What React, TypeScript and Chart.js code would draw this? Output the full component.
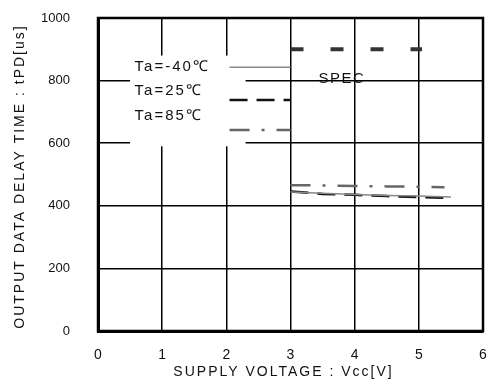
import React, { useEffect, useRef } from "react";
import { Chart, registerables } from "chart.js";

Chart.register(...registerables);

const xTicks = [0, 1, 2, 3, 4, 5, 6];
const yTicks = [0, 200, 400, 600, 800, 1000];

const vcc = [3.0, 3.5, 4.0, 4.5, 5.0, 5.5];
const tpdMinus40 = [444, 440, 436, 433, 431, 428];
const tpd25 = [446, 438, 435, 431, 428, 425];
const vcc85 = [3.0, 3.5, 4.0, 4.5, 5.0, 5.4];
const tpd85 = [466, 465, 463, 462, 461, 459];

const specVcc = [3.0, 5.05];
const specTpd = [900, 900];

const legendLabels = ["Ta=-40℃", "Ta=25℃", "Ta=85℃"];
const legendY = [843, 767, 687];
const legendSampleY = [843, 738, 642];

const xTitle = "SUPPLY VOLTAGE : Vcc[V]";
const yTitle = "OUTPUT DATA DELAY TIME : tPD[us]";

const FONT = "'Liberation Sans', Arial, sans-serif";

const toPts = (xs: number[], ys: number[]) => xs.map((x, i) => ({ x, y: ys[i] }));

const styles = [
  { color: "#888888", width: 1.5, dash: [] as number[] },
  { color: "#111111", width: 2.5, dash: [18, 9] },
  { color: "#666666", width: 2.5, dash: [20, 12, 3, 12] },
];

const legendPlugin = {
  id: "customLegend",
  beforeDatasetsDraw(chart: any) {
    const { ctx, scales } = chart;
    const xs = scales.x;
    const ys = scales.y;
    ctx.save();
    const bx0 = xs.getPixelForValue(0.5);
    const bx1 = xs.getPixelForValue(2.3);
    const by0 = ys.getPixelForValue(880);
    const by1 = ys.getPixelForValue(590);
    ctx.fillStyle = "#ffffff";
    ctx.fillRect(bx0, by0, bx1 - bx0, by1 - by0);
    ctx.fillStyle = "#111111";
    ctx.font = `15px ${FONT}`;
    ctx.letterSpacing = "2px";
    ctx.textAlign = "left";
    ctx.textBaseline = "middle";
    legendLabels.forEach((t, i) => {
      ctx.fillText(t, xs.getPixelForValue(0.57), ys.getPixelForValue(legendY[i]));
    });
    legendSampleY.forEach((v, i) => {
      const s = styles[i];
      ctx.strokeStyle = s.color;
      ctx.lineWidth = s.width;
      ctx.setLineDash(s.dash);
      ctx.beginPath();
      const y = ys.getPixelForValue(v);
      ctx.moveTo(xs.getPixelForValue(2.05), y);
      ctx.lineTo(xs.getPixelForValue(3.0), y);
      ctx.stroke();
    });
    ctx.setLineDash([]);
    ctx.font = `15px ${FONT}`;
    ctx.letterSpacing = "1.5px";
    ctx.textAlign = "center";
    ctx.fillText("SPEC", xs.getPixelForValue(3.8), ys.getPixelForValue(805));
    ctx.restore();
  },
};

const titlesPlugin = {
  id: "axisTitles",
  afterDraw(chart: any) {
    const { ctx, chartArea } = chart;
    ctx.save();
    ctx.fillStyle = "#111111";
    ctx.font = `14px ${FONT}`;
    ctx.letterSpacing = "2px";
    ctx.textAlign = "center";
    ctx.textBaseline = "middle";
    ctx.fillText(xTitle, (chartArea.left + chartArea.right) / 2 - 7, chartArea.bottom + 41);
    ctx.translate(20, (chartArea.top + chartArea.bottom) / 2 + 2);
    ctx.rotate(-Math.PI / 2);
    ctx.letterSpacing = "2px";
    ctx.fillText(yTitle, 0, 0);
    ctx.restore();
  },
};

export default function App() {
  const ref = useRef<HTMLCanvasElement | null>(null);
  useEffect(() => {
    if (!ref.current) return;
    const chart = new Chart(ref.current, {
      type: "line",
      data: {
        datasets: [
          {
            label: "SPEC",
            data: toPts(specVcc, specTpd),
            borderColor: "#333333",
            borderWidth: 4,
            borderDash: [13, 27],
            pointRadius: 0,
            borderCapStyle: "butt",
          },
          {
            label: legendLabels[2],
            data: toPts(vcc85, tpd85),
            borderColor: styles[2].color,
            borderWidth: styles[2].width,
            borderDash: styles[2].dash,
            pointRadius: 0,
          },
          {
            label: legendLabels[0],
            data: toPts(vcc, tpdMinus40),
            borderColor: styles[0].color,
            borderWidth: styles[0].width,
            pointRadius: 0,
          },
          {
            label: legendLabels[1],
            data: toPts(vcc, tpd25),
            borderColor: styles[1].color,
            borderWidth: styles[1].width,
            borderDash: styles[1].dash,
            pointRadius: 0,
          },
        ],
      },
      options: {
        animation: false,
        responsive: false,
        maintainAspectRatio: false,
        layout: { padding: { top: 18, right: 5, left: 0, bottom: 0 } },
        plugins: { legend: { display: false }, tooltip: { enabled: false } },
        scales: {
          x: {
            type: "linear",
            min: 0,
            max: 6,
            afterBuildTicks: (s: any) => {
              s.ticks = xTicks.map((v) => ({ value: v }));
            },
            afterFit: (s: any) => {
              s.height = 57;
              s.paddingTop = 0;
              s.paddingBottom = 0;
              s.paddingLeft = 0;
              s.paddingRight = 0;
            },
            ticks: {
              padding: 16,
              color: "#111",
              font: { family: FONT, size: 14 },
              maxRotation: 0,
              callback: (v: any) => String(v),
            },
            grid: { color: "#000", lineWidth: 1.5, drawTicks: false },
            border: { color: "#000", width: 3 },
          },
          y: {
            type: "linear",
            min: 0,
            max: 1000,
            afterBuildTicks: (s: any) => {
              s.ticks = yTicks.map((v) => ({ value: v }));
            },
            afterFit: (s: any) => {
              s.width = 98;
              s.paddingTop = 0;
              s.paddingBottom = 0;
              s.paddingLeft = 0;
              s.paddingRight = 0;
            },
            ticks: {
              padding: 28,
              color: "#111",
              font: { family: FONT, size: 13 },
              callback: (v: any) => String(v),
            },
            grid: { color: "#000", lineWidth: 1.5, drawTicks: false },
            border: { color: "#000", width: 3 },
          },
        },
      },
      plugins: [
        legendPlugin,
        titlesPlugin,
        {
          id: "frame",
          afterDraw(chart: any) {
            const { ctx, chartArea } = chart;
            ctx.save();
            ctx.strokeStyle = "#000";
            ctx.lineWidth = 2.5;
            ctx.strokeRect(chartArea.left, chartArea.top, chartArea.right - chartArea.left, chartArea.bottom - chartArea.top);
            ctx.restore();
          },
        },
      ],
    } as any);
    return () => chart.destroy();
  }, []);
  return (
    <div style={{ position: "fixed", left: 0, top: 0, width: 488, height: 388, background: "#fff" }}>
      <canvas ref={ref} width={488} height={388} style={{ width: 488, height: 388 }} />
    </div>
  );
}
